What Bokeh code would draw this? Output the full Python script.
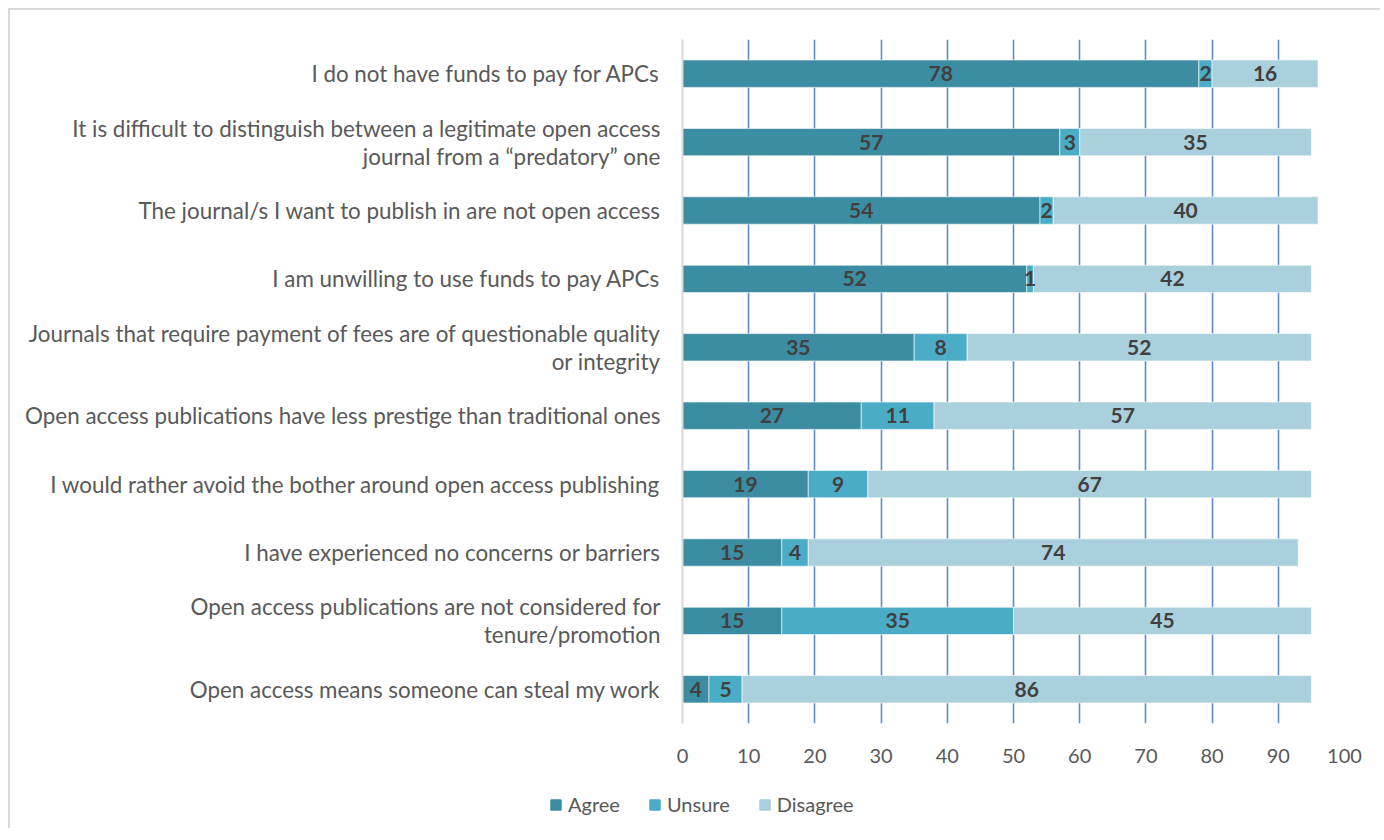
from bokeh.plotting import figure
from bokeh.layouts import column, row
from bokeh.models import ColumnDataSource, FactorRange, FixedTicker, Legend, LegendItem
from bokeh.core.properties import value
from bokeh.embed import file_html
from bokeh.resources import INLINE

categories = [
    "I do not have funds to pay for APCs",
    "It is difficult to distinguish between a legitimate open access\njournal from a \u201cpredatory\u201d one",
    "The journal/s I want to publish in are not open access",
    "I am unwilling to use funds to pay APCs",
    "Journals that require payment of fees are of questionable quality\nor integrity",
    "Open access publications have less prestige than traditional ones",
    "I would rather avoid the bother around open access publishing",
    "I have experienced no concerns or barriers",
    "Open access publications are not considered for\ntenure/promotion",
    "Open access means someone can steal my work",
]
agree = [78, 57, 54, 52, 35, 27, 19, 15, 15, 4]
unsure = [2, 3, 2, 1, 8, 11, 9, 4, 35, 5]
disagree = [16, 35, 40, 42, 52, 57, 67, 74, 45, 86]
series = ["Agree", "Unsure", "Disagree"]
colors = ["#3C8CA2", "#4BACC6", "#A9D0DC"]
x_ticks = [0, 10, 20, 30, 40, 50, 60, 70, 80, 90, 100]

FONT = "Lato"

src = ColumnDataSource(dict(cat=categories, Agree=agree, Unsure=unsure, Disagree=disagree))

p = figure(width=1370, height=768, output_backend="svg", toolbar_location=None,
           y_range=FactorRange(factors=list(reversed(categories))),
           x_range=(0, 100),
           min_border_left=672, min_border_right=36, min_border_top=29, min_border_bottom=55)
p.outline_line_color = None
p.background_fill_color = "white"
p.border_fill_color = "white"

renderers = p.hbar_stack(series, y="cat", height=0.4, color=colors, source=src,
                         line_color="white", line_width=0.6)

# data labels
vals = [agree, unsure, disagree]
for i, s in enumerate(series):
    centers, texts = [], []
    for j, c in enumerate(categories):
        base = sum(vals[k][j] for k in range(i))
        v = vals[i][j]
        centers.append(base + v / 2)
        texts.append(str(v))
    p.text(x=centers, y=categories, text=texts, text_align="center", text_baseline="middle",
           text_font=value(FONT), text_font_style="bold", text_font_size="21px",
           text_color="#404040")

# grid
p.ygrid.grid_line_color = None
p.xgrid.ticker = FixedTicker(ticks=x_ticks[1:])
p.xgrid.grid_line_color = "#5B8BD0"
p.xgrid.grid_line_width = 1.6

# x axis
p.xaxis.ticker = FixedTicker(ticks=x_ticks)
p.xaxis.axis_line_color = None
p.xaxis.major_tick_line_color = None
p.xaxis.minor_tick_line_color = None
p.xaxis.major_label_text_font = FONT
p.xaxis.major_label_text_font_size = "20px"
p.xaxis.major_label_text_color = "#595959"
p.xaxis.major_label_standoff = 19

# y axis
p.yaxis.axis_line_color = "#D9D9D9"
p.yaxis.axis_line_width = 2
p.yaxis.major_tick_line_color = None
p.yaxis.minor_tick_line_color = None
p.yaxis.major_label_text_font = FONT
p.yaxis.major_label_text_font_size = "22.4px"
p.yaxis.major_label_text_color = "#595959"
p.yaxis.major_label_text_line_height = 1.03
p.yaxis.major_label_standoff = 16

# legend strip below the chart (its bars lie outside its own visible range)
q = figure(width=1370, height=50, output_backend="svg", toolbar_location=None,
           x_range=(-100, -1), y_range=FactorRange(factors=categories), min_border=0)
q.outline_line_color = None
q.axis.visible = False
q.grid.visible = False
swatches = q.hbar_stack(series, y="cat", height=0.4, color=colors, source=src)
legend = Legend(items=[LegendItem(label=s, renderers=[r]) for s, r in zip(series, swatches)],
                orientation="horizontal", location=(539, 12), padding=5, margin=0,
                label_text_font=FONT, label_text_font_size="20px", label_text_color="#595959",
                glyph_width=13, glyph_height=13, label_standoff=6, spacing=28,
                border_line_color=None, background_fill_alpha=0)
q.add_layout(legend, "center")

layout = column(p, row(q), spacing=0)
layout.styles = {"margin-left": "8px", "margin-top": "8px",
                 "border-left": "2px solid #D9D9D9", "border-top": "2px solid #D9D9D9"}

open("out.html", "w").write(file_html(layout, INLINE))
